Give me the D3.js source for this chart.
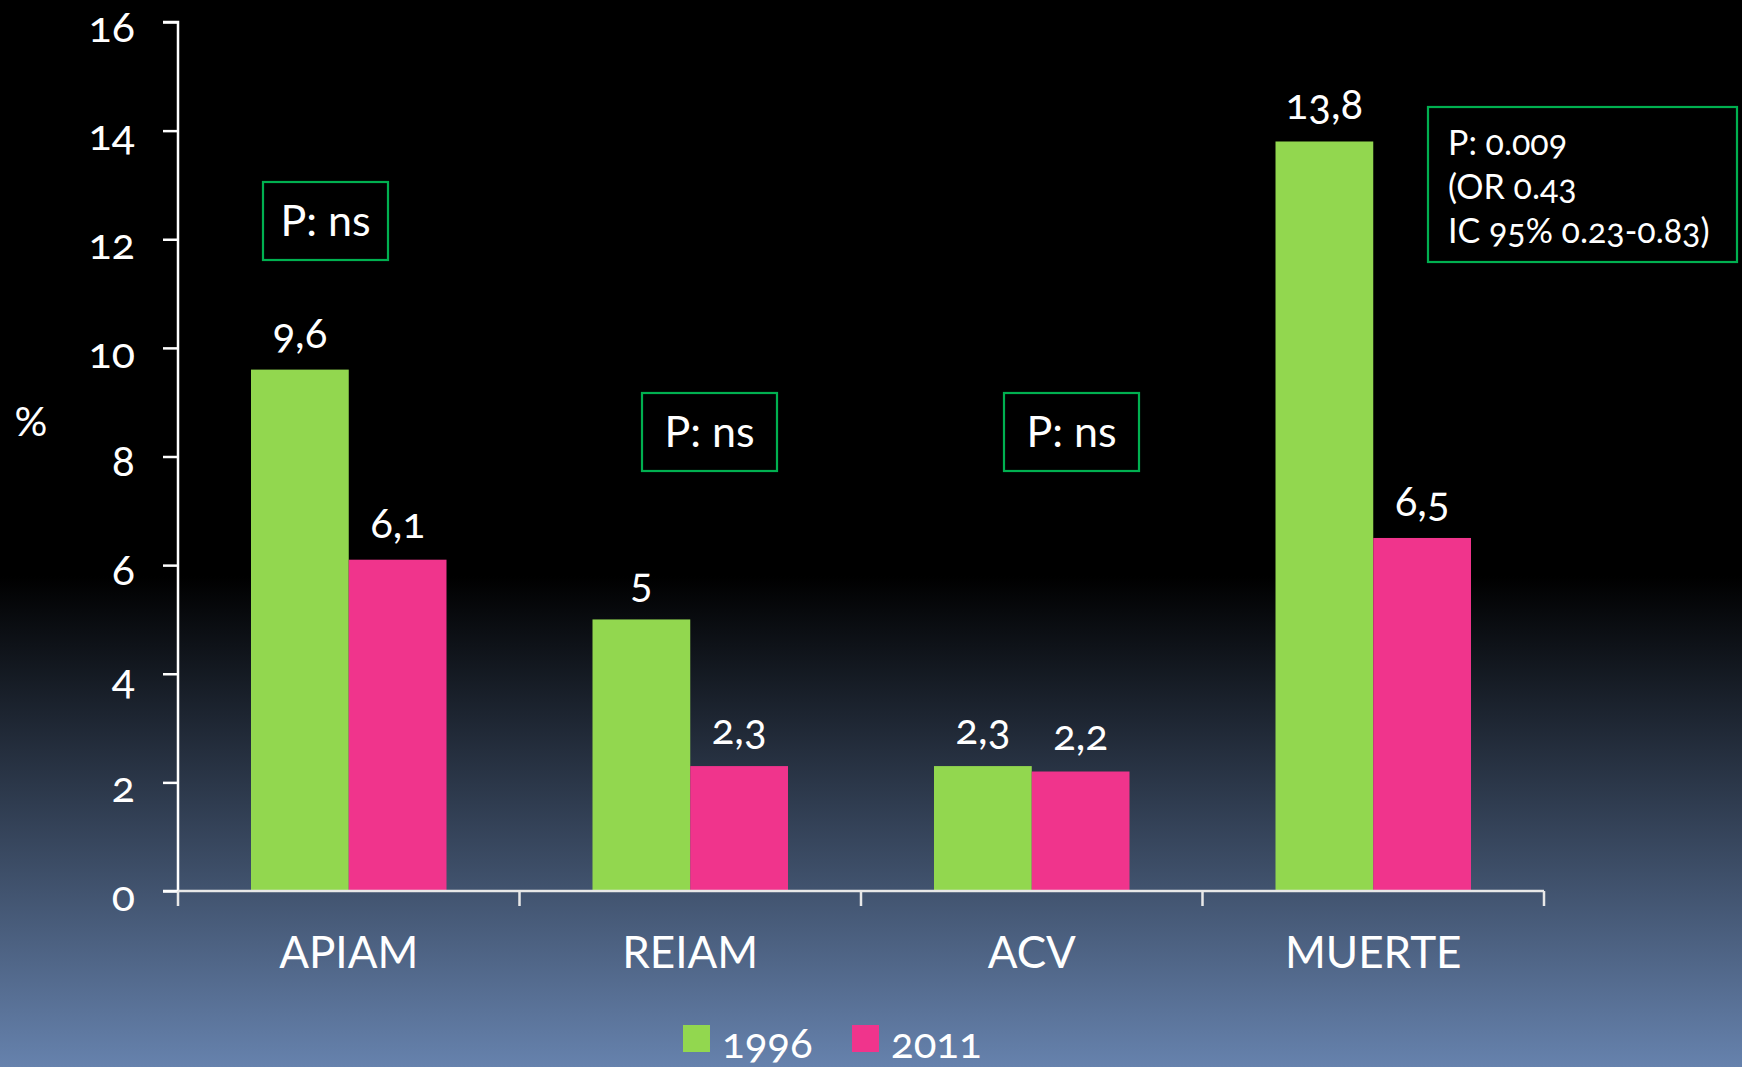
<!DOCTYPE html>
<html>
<head>
<meta charset="utf-8">
<script src="https://cdn.jsdelivr.net/npm/d3@7"></script>
<style>
  html, body { margin: 0; padding: 0; background: #000; }
  svg text { font-family: "Lato", "Open Sans", sans-serif; fill: #fff; font-variant-numeric: oldstyle-nums; }
</style>
</head>
<body>
<svg id="chart" width="1742" height="1067"></svg>
<script>
const categories = ["APIAM", "REIAM", "ACV", "MUERTE"];
const seriesNames = ["1996", "2011"];
const values1996 = [9.6, 5, 2.3, 13.8];
const values2011 = [6.1, 2.3, 2.2, 6.5];
const valueLabels1996 = ["9,6", "5", "2,3", "13,8"];
const valueLabels2011 = ["6,1", "2,3", "2,2", "6,5"];
const yTicks = [0, 2, 4, 6, 8, 10, 12, 14, 16];
const pBoxes = [
  { cat: "APIAM", lines: ["P: ns"] },
  { cat: "REIAM", lines: ["P: ns"] },
  { cat: "ACV", lines: ["P: ns"] },
  { cat: "MUERTE", lines: ["P: 0.009", "(OR 0.43", "IC 95% 0.23-0.83)"] }
];
const colors = ["#92d74f", "#f0348c"];

const W = 1742, H = 1067;
const svg = d3.select("#chart");

// background gradient
const defs = svg.append("defs");
const grad = defs.append("linearGradient").attr("id", "bg").attr("x1", 0).attr("y1", 0).attr("x2", 0).attr("y2", 1);
grad.append("stop").attr("offset", "0%").attr("stop-color", "#000000");
grad.append("stop").attr("offset", "54%").attr("stop-color", "#000000");
grad.append("stop").attr("offset", "100%").attr("stop-color", "#6682ad");
svg.append("rect").attr("width", W).attr("height", H).attr("fill", "url(#bg)");

const x0 = d3.scaleBand().domain(categories).range([178, 1544]).paddingInner(0).paddingOuter(0);
const x1 = d3.scaleBand().domain(seriesNames).range([73, x0.bandwidth() - 73]);
const y = d3.scaleLinear().domain([0, 16]).range([891, 22]);

// bars
const data = categories.map((c, i) => ({
  cat: c,
  vals: [
    { s: seriesNames[0], v: values1996[i], label: valueLabels1996[i], color: colors[0] },
    { s: seriesNames[1], v: values2011[i], label: valueLabels2011[i], color: colors[1] }
  ]
}));

const g = svg.append("g");
const groups = g.selectAll("g.grp").data(data).join("g")
  .attr("class", "grp")
  .attr("transform", d => `translate(${x0(d.cat)},0)`);

groups.selectAll("rect").data(d => d.vals).join("rect")
  .attr("x", d => x1(d.s))
  .attr("width", x1.bandwidth())
  .attr("y", d => y(d.v))
  .attr("height", d => y(0) - y(d.v))
  .attr("fill", d => d.color);

groups.selectAll("text.val").data(d => d.vals).join("text")
  .attr("class", "val")
  .attr("x", d => x1(d.s) + x1.bandwidth() / 2)
  .attr("y", d => y(d.v) - 22)
  .attr("text-anchor", "middle")
  .attr("font-size", 42)
  .text(d => d.label);

// y axis
const yAxis = d3.axisLeft(y).tickValues(yTicks).tickSize(15).tickPadding(28).tickFormat(d3.format("d"));
const ya = svg.append("g").attr("transform", "translate(178,0)").call(yAxis);
ya.select(".domain").attr("stroke", "#fff").attr("stroke-width", 2.5).attr("d", `M-15,${y(16)}H0V${y(0)}H-15`);
ya.selectAll(".tick line").attr("stroke", "#fff").attr("stroke-width", 2.5);
ya.selectAll(".tick text").attr("font-size", 43).attr("fill", "#fff").attr("dy", "0.45em");

// x axis
const xa = svg.append("g").attr("transform", `translate(0,${y(0)})`);
xa.append("line").attr("x1", 178).attr("x2", 1544).attr("y1", 0).attr("y2", 0).attr("stroke", "#e8e8e8").attr("stroke-width", 2.5);
const xTickPos = categories.map(c => x0(c)).concat([x0(categories[categories.length - 1]) + x0.bandwidth()]);
xa.selectAll("line.tk").data(xTickPos).join("line").attr("class", "tk")
  .attr("x1", d => d).attr("x2", d => d).attr("y1", 0).attr("y2", 15)
  .attr("stroke", "#e8e8e8").attr("stroke-width", 2.5);
xa.selectAll("text.cat").data(categories).join("text").attr("class", "cat")
  .attr("x", d => x0(d) + x0.bandwidth() / 2)
  .attr("y", 77)
  .attr("text-anchor", "middle")
  .attr("font-size", 44)
  .text(d => d);

// % label
svg.append("text").attr("x", 31).attr("y", 436).attr("text-anchor", "middle").attr("font-size", 41).text("%");

// P boxes
const boxGeom = {
  "APIAM": { x: 263, y: 182, w: 125, h: 78 },
  "REIAM": { x: 642, y: 393, w: 135, h: 78 },
  "ACV": { x: 1004, y: 393, w: 135, h: 78 },
  "MUERTE": { x: 1428, y: 107, w: 309, h: 155 }
};
pBoxes.forEach(b => {
  const gm = boxGeom[b.cat];
  svg.append("rect").attr("x", gm.x).attr("y", gm.y).attr("width", gm.w).attr("height", gm.h)
    .attr("fill", "none").attr("stroke", "#00b050").attr("stroke-width", 2.2);
  if (b.lines.length === 1) {
    svg.append("text").attr("x", gm.x + gm.w / 2).attr("y", gm.y + gm.h / 2 + 15)
      .attr("text-anchor", "middle").attr("font-size", 43).text(b.lines[0]);
  } else {
    b.lines.forEach((l, i) => {
      svg.append("text").attr("x", gm.x + 20).attr("y", gm.y + 48 + i * 44)
        .attr("font-size", 34).text(l);
    });
  }
});

// legend
const leg = svg.append("g");
const legX = [683, 852];
seriesNames.forEach((s, i) => {
  leg.append("rect").attr("x", legX[i]).attr("y", 1025).attr("width", 27).attr("height", 27).attr("fill", colors[i]);
  leg.append("text").attr("x", legX[i] + 39).attr("y", 1058).attr("font-size", 42).text(s);
});
</script>
</body>
</html>
